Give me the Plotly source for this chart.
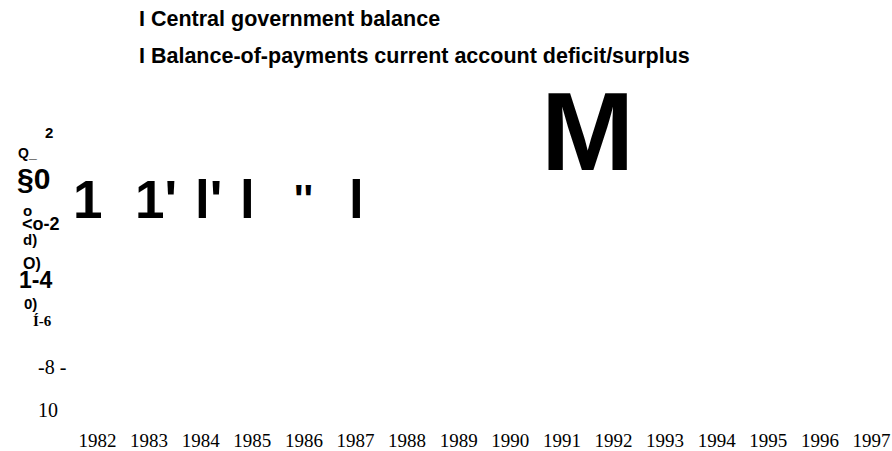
import plotly.graph_objects as go

# Categories along the horizontal axis
years = list(range(1982, 1998))
year_labels = [str(y) for y in years]

# Legend entries (the leading "I" is the swatch as printed)
legend_lines = [
    "I Central government balance",
    "I Balance-of-payments current account deficit/surplus",
]

# Vertical-axis label fragments, top to bottom
axis_fragments = ["2", "Q_", "§0", "o", "<o-2", "d)", "O)", "1-4", "0)", "Í-6", "-8 -", "10"]

# Bar fragments across the plot
bar_fragments = ["1", "1'", "l'", "l", "''", "l", "M"]

W, H = 892, 451
MB = 24                      # bottom margin below the axis line
PLOT_H = H - MB
SANS = "Liberation Sans, Arial, sans-serif"
SERIF = "Liberation Serif, Times New Roman, serif"


def px(x):
    return x / W


def py(y):
    return (PLOT_H - y) / PLOT_H


fig = go.Figure()
fig.add_trace(go.Scatter(x=years, y=[None] * len(years), mode="markers",
                         showlegend=False, hoverinfo="skip"))

annotations = []


def label(text, x, y, size, family=SANS, bold=True):
    t = f"<b>{text}</b>" if bold else text
    annotations.append(dict(
        text=t, x=px(x), y=py(y), xref="paper", yref="paper",
        xanchor="left", yanchor="middle", showarrow=False,
        font=dict(family=family, size=size, color="black"),
        borderpad=0,
    ))


# legend block
label(legend_lines[0], 138, 19, 21.5)
label(legend_lines[1], 138, 56, 21.5)

# axis fragments: (x-left, y-centre, size, family, bold)
axis_style = [
    (44, 132, 15, SANS, True),
    (17, 153, 14, SANS, True),
    (16, 178, 30, SANS, True),
    (22, 210, 15, SANS, True),
    (21, 224, 18, SANS, True),
    (22, 240, 15, SANS, True),
    (22, 263, 16, SANS, True),
    (18, 280, 23, SANS, True),
    (23, 303, 15, SANS, True),
    (32, 321, 15, SERIF, True),
    (37, 367, 20, SERIF, False),
    (37, 410, 20, SERIF, False),
]
for txt, (x, y, s, fam, b) in zip(axis_fragments, axis_style):
    label(txt, x, y, s, fam, b)

# bar fragments: (x-left, y-centre, size)
bar_style = [
    (72, 200, 53),
    (134, 200, 53),
    (194, 200, 53),
    (239, 200, 53),
    (293, 199, 40),
    (348, 200, 53),
    (540, 131, 112),
]
for txt, (x, y, s) in zip(bar_fragments, bar_style):
    label(txt, x, y, s)

first_px, step_px = 97.5, 51.6
x0 = years[0] - first_px / step_px
x1 = years[0] + (W - first_px) / step_px

fig.update_layout(
    width=W, height=H,
    margin=dict(l=0, r=0, t=0, b=MB),
    paper_bgcolor="white", plot_bgcolor="white",
    showlegend=False,
    annotations=annotations,
    xaxis=dict(range=[x0, x1], tickmode="array", tickvals=years, ticktext=year_labels,
               showgrid=False, zeroline=False, showline=False, ticks="",
               tickfont=dict(family=SERIF, size=19, color="black")),
    yaxis=dict(range=[0, 1], visible=False, showgrid=False, zeroline=False),
)

fig.write_html("out.html")
